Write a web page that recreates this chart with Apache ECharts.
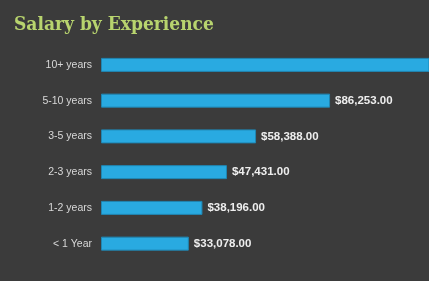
<!DOCTYPE html>
<html><head><meta charset="utf-8">
<script src="https://cdn.jsdelivr.net/npm/echarts@6/dist/echarts.min.js"></script>
<style>html,body{margin:0;padding:0;background:#3b3b3b;}#c{width:429px;height:281px;}</style>
</head><body><div id="c"></div>
<script>
const categories = ["< 1 Year", "1-2 years", "2-3 years", "3-5 years", "5-10 years", "10+ years"];
const salaries = [33078, 38196, 47431, 58388, 86253, 130000];
const showValueLabel = [true, true, true, true, true, false];
const titleText = "Salary by Experience";

const chart = echarts.init(document.getElementById('c'));
chart.setOption({
  backgroundColor: '#3b3b3b',
  animation: false,
  title: {
    text: titleText, left: 14, top: 16, padding: 0,
    textStyle: { color: '#b8d46e', fontSize: 19, fontWeight: 'bold', fontFamily: 'DejaVu Serif Condensed' }
  },
  grid: { left: 101, right: 0, top: 47, bottom: 19.5, containLabel: false },
  xAxis: { type: 'value', min: 0, max: 123500, show: false },
  yAxis: {
    type: 'category', data: categories,
    axisLine: { show: false }, axisTick: { show: false }, splitLine: { show: false },
    axisLabel: { color: '#d8d8d8', fontSize: 10.5, margin: 9, fontFamily: 'Liberation Sans' }
  },
  series: [{
    type: 'bar', barWidth: 14, clip: true,
    data: salaries.map((v, i) => ({
      value: v,
      label: { show: showValueLabel[i] }
    })),
    itemStyle: { color: '#29aae1', borderColor: '#1f86b3', borderWidth: 1 },
    label: {
      position: 'right', distance: 5, color: '#eeeeee', fontSize: 11.5, fontWeight: 'bold',
      fontFamily: 'Liberation Sans',
      formatter: p => '$' + p.value.toLocaleString('en-US', { minimumFractionDigits: 2, maximumFractionDigits: 2 })
    }
  }]
});
</script></body></html>
